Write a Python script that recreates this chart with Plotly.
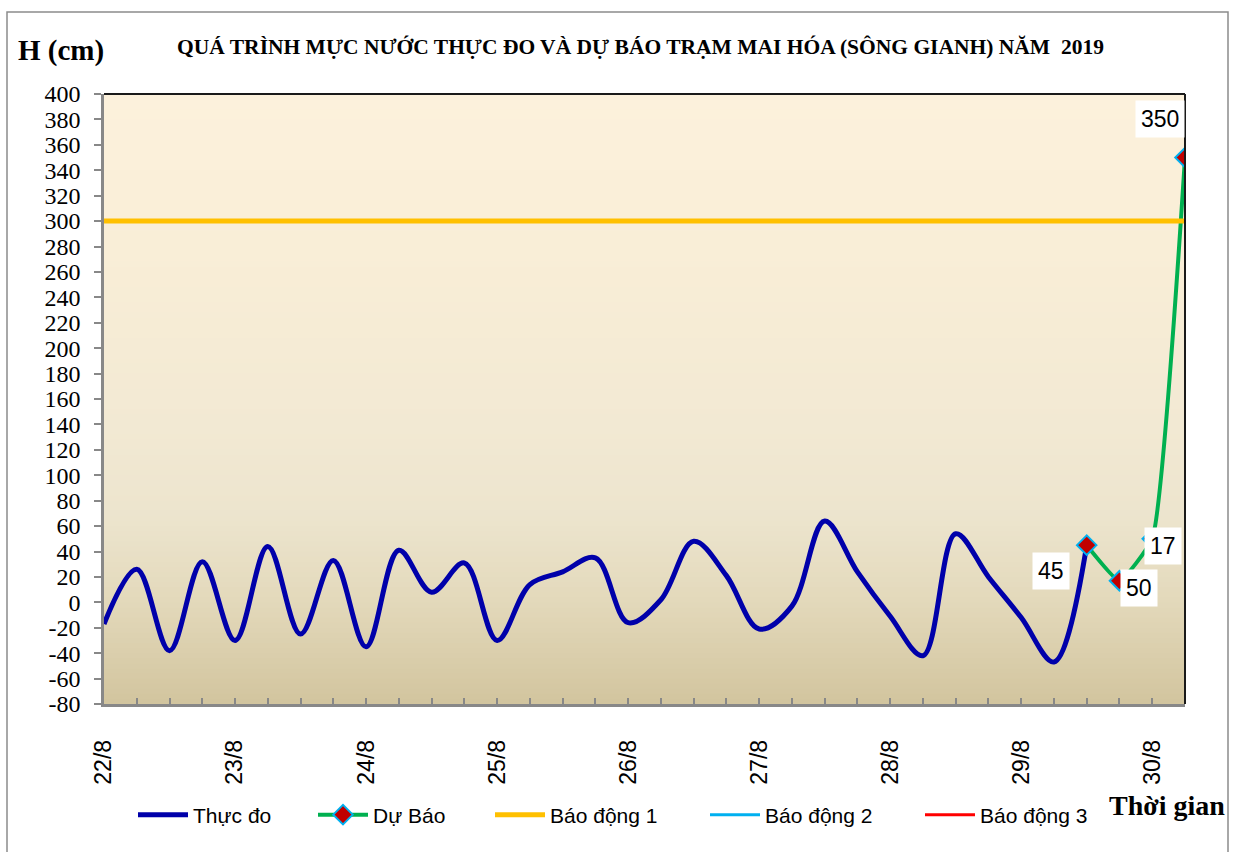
import plotly.graph_objects as go

# ---------------- data ----------------
day_labels = ["22/8", "23/8", "24/8", "25/8", "26/8", "27/8", "28/8", "29/8", "30/8"]
points_per_day = 4  # 6-hourly observations

observed = [-17, 26, -38, 32, -30, 44, -25, 33, -35, 41, 8, 31, -30, 14, 24, 35,
            -16, 2, 48, 21, -21, -3, 64, 24, -11, -42, 54, 20, -12, -47, 45]
forecast = [45, 17, 50, 350]
forecast_labels = ["45", "50", "17", "350"]
alarm1 = 300
alarm2 = None
alarm3 = None
y_ticks = list(range(-80, 401, 20))

n_total = len(observed) + len(forecast) - 1
x_all = list(range(n_total))
x_obs = x_all[:len(observed)]
x_fc = x_all[len(observed) - 1:]

tickvals = x_all
ticktext = [day_labels[i // points_per_day] if i % points_per_day == 0 and i // points_per_day < len(day_labels) else "" for i in x_all]

# ---------------- layout geometry (pixels) ----------------
W, H = 1237, 852
L, R, T, B = 104, 52, 94, 148
PW, PH = W - L - R, H - T - B


def px(x):
    return (x - L) / PW


def py(y):
    return (H - B - y) / PH


SERIF = "Liberation Serif, Times New Roman, serif"
SANS = "Liberation Sans, Arial, sans-serif"

fig = go.Figure()

fig.add_trace(go.Scatter(
    x=x_obs, y=observed, mode="lines", name="Thực đo", legend="legend",
    line=dict(color="#0000AA", width=5, shape="spline", smoothing=1.0),
))
fig.add_trace(go.Scatter(
    x=x_fc, y=forecast, mode="lines+markers", name="Dự Báo", legend="legend2",
    line=dict(color="#00B050", width=4, shape="spline", smoothing=0.4),
    marker=dict(symbol="diamond", size=15, color="#C00000",
                line=dict(color="#00B0F0", width=2)),
))
fig.add_trace(go.Scatter(
    x=[x_all[0], x_all[-1]], y=[alarm1, alarm1], mode="lines", name="Báo động 1", legend="legend3",
    line=dict(color="#FFC000", width=5),
))
fig.add_trace(go.Scatter(
    x=[x_all[0], x_all[-1]], y=[alarm2, alarm2], mode="lines", name="Báo động 2", legend="legend4",
    line=dict(color="#00B0F0", width=3),
))
fig.add_trace(go.Scatter(
    x=[x_all[0], x_all[-1]], y=[alarm3, alarm3], mode="lines", name="Báo động 3", legend="legend5",
    line=dict(color="#FF0000", width=3),
))

# data labels on forecast points
label_offsets = [(-36, -26), (20, -7), (11, -7), (-25, 39)]
for xv, yv, txt, (dx, dy) in zip(x_fc, forecast, forecast_labels, label_offsets):
    fig.add_annotation(x=xv, y=yv, text=txt, showarrow=False, xshift=dx, yshift=dy,
                       font=dict(family=SANS, size=23, color="black"),
                       bgcolor="white", borderpad=5)

# gradient background of plot area
stops = [(0.0, (252, 241, 220)), (0.25, (249, 238, 215)), (0.55, (242, 233, 211)),
         (0.7, (236, 228, 205)), (0.83, (227, 217, 187)), (1.0, (210, 196, 158))]


def col_at(t):
    for (t0, c0), (t1, c1) in zip(stops[:-1], stops[1:]):
        if t0 <= t <= t1:
            f = (t - t0) / (t1 - t0)
            return "rgb(%d,%d,%d)" % tuple(round(a + (b - a) * f) for a, b in zip(c0, c1))
    return "rgb(%d,%d,%d)" % stops[-1][1]


N = 120
for i in range(N):
    t = (i + 0.5) / N
    fig.add_shape(type="rect", xref="x domain", yref="y domain",
                  x0=0, x1=1, y0=1 - i / N, y1=1 - (i + 1) / N - 0.002,
                  fillcolor=col_at(t), line=dict(width=0), layer="below")

# plot frame top/right (dark)
fig.add_shape(type="line", xref="x domain", yref="y domain", x0=0, x1=1, y0=1, y1=1,
              line=dict(color="#1a1a1a", width=2))
fig.add_shape(type="line", xref="x domain", yref="y domain", x0=1, x1=1, y0=0, y1=1,
              line=dict(color="#1a1a1a", width=2))

# outer chart border
fig.add_shape(type="rect", xref="paper", yref="paper",
              x0=px(7), x1=px(1228), y0=py(870), y1=py(12),
              line=dict(color="#8C8C8C", width=1.5), fillcolor="rgba(0,0,0,0)", layer="below")

# texts
fig.add_annotation(xref="paper", yref="paper", x=px(640), y=py(47), xanchor="center", yanchor="middle",
                   text="<b>QUÁ TRÌNH MỰC NƯỚC THỰC ĐO VÀ DỰ BÁO TRẠM MAI HÓA (SÔNG GIANH) NĂM  2019</b>",
                   showarrow=False, font=dict(family=SERIF, size=21.5, color="black"))
fig.add_annotation(xref="paper", yref="paper", x=px(16), y=py(50), xanchor="left", yanchor="middle",
                   text="<b>H (cm)</b>", showarrow=False, font=dict(family=SERIF, size=29, color="black"))
fig.add_annotation(xref="paper", yref="paper", x=px(1227), y=py(805), xanchor="right", yanchor="middle",
                   text="<b>Thời gian</b>", showarrow=False, font=dict(family=SERIF, size=28, color="black"))

legend_common = dict(orientation="h", yanchor="middle", xanchor="left",
                     font=dict(family=SANS, size=21, color="black"), itemwidth=50,
                     bgcolor="rgba(0,0,0,0)")
legend_starts = [133, 313, 490, 705, 920]

layout_legends = {}
for k, xs in enumerate(legend_starts):
    key = "legend" if k == 0 else "legend%d" % (k + 1)
    layout_legends[key] = dict(legend_common, x=px(xs), y=py(815))

fig.update_layout(
    width=W, height=H,
    margin=dict(l=L, r=R, t=T, b=B, pad=0),
    paper_bgcolor="white", plot_bgcolor="rgba(0,0,0,0)",
    showlegend=True,
    xaxis=dict(range=[x_all[0], x_all[-1]], tickmode="array", tickvals=tickvals, ticktext=ticktext,
               ticks="inside", ticklen=6, tickwidth=2, tickcolor="#888888",
               showline=True, linecolor="#888888", linewidth=2.5, showgrid=False, zeroline=False,
               tickangle=-90, ticklabelstandoff=24,
               tickfont=dict(family=SANS, size=23, color="black")),
    yaxis=dict(range=[-80, 400], tickmode="array", tickvals=y_ticks,
               ticktext=[str(v) for v in y_ticks],
               ticks="outside", ticklen=7, tickwidth=2, tickcolor="#888888",
               showline=True, linecolor="#888888", linewidth=2.5, showgrid=False, zeroline=False,
               ticklabelstandoff=9,
               tickfont=dict(family=SERIF, size=24, color="black")),
    **layout_legends,
)

fig.write_html("out.html", config={"displayModeBar": False},
               post_script="document.body.style.margin='0';document.body.style.overflow='hidden';")
